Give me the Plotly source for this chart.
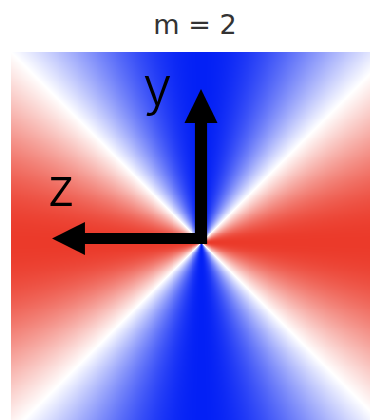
import numpy as np
import plotly.graph_objects as go

# Azimuthal mode number and field colours
m = 2
title_text = "m = 2"
axis_labels = ["y", "z"]
neg_color = "#0320f5"
mid_color = "#ffffff"
pos_color = "#eb3a2a"

# Field cos(m*phi) sampled on a square grid in the (z, y) plane
n = 401
coords = np.linspace(-1.0, 1.0, n)
X, Y = np.meshgrid(coords, coords)
field = np.cos(m * np.arctan2(Y, X))

fig = go.Figure()
fig.add_trace(go.Heatmap(
    x=coords, y=coords, z=field,
    zmin=-1, zmax=1,
    colorscale=[[0.0, neg_color], [0.5, mid_color], [1.0, pos_color]],
    showscale=False, zsmooth="best", hoverinfo="skip",
))

# Coordinate arrows (L-shaped shafts plus triangular heads)
shaft_w = 0.032
fig.add_shape(type="path", xref="x", yref="y", line_width=0, fillcolor="black",
              path=(f"M {-shaft_w} -0.011 L {shaft_w} -0.011 L {shaft_w} 0.63 "
                    f"L {-shaft_w} 0.63 Z"))
fig.add_shape(type="path", xref="x", yref="y", line_width=0, fillcolor="black",
              path=("M 0.032 -0.011 L 0.032 0.047 L -0.62 0.047 L -0.62 -0.011 Z"))
fig.add_shape(type="path", xref="x", yref="y", line_width=0, fillcolor="black",
              path="M -0.087 0.626 L 0.087 0.626 L 0 0.805 Z")
fig.add_shape(type="path", xref="x", yref="y", line_width=0, fillcolor="black",
              path="M -0.611 0.105 L -0.611 -0.069 L -0.784 0.018 Z")

label_font = dict(family="Inter, sans-serif", size=52, color="black", weight=300)
fig.add_annotation(x=-0.23, y=0.82, xref="x", yref="y", text=axis_labels[0],
                   showarrow=False, font=label_font, xanchor="center", yanchor="middle")
fig.add_annotation(x=-0.737, y=0.285, xref="x", yref="y", text=axis_labels[1],
                   showarrow=False, font=label_font, xanchor="center", yanchor="middle")

fig.update_layout(
    width=370, height=420,
    margin=dict(l=11, r=0, t=52, b=0),
    paper_bgcolor="white", plot_bgcolor="white",
    title=dict(text=title_text, x=195 / 370, y=1 - 25 / 420, xref="container",
               yref="container", xanchor="center", yanchor="middle",
               font=dict(family="DejaVu Sans, sans-serif", size=27, color="#333333")),
    xaxis=dict(range=[-1, -1 + 359 / 190], visible=False, fixedrange=True),
    yaxis=dict(range=[1 - 368 / 190, 1], visible=False, fixedrange=True),
)

fig.write_html("out.html")
